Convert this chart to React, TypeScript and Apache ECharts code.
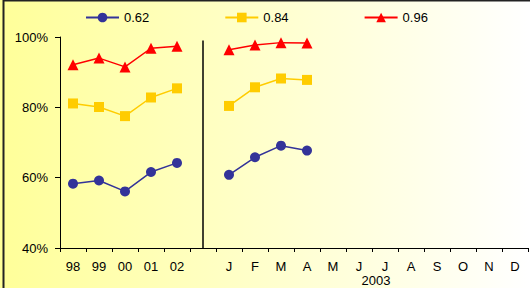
import React, { useEffect, useRef } from "react";
import * as echarts from "echarts";

const categories = ["98", "99", "00", "01", "02", "", "J", "F", "M", "A", "M", "J", "J", "A", "S", "O", "N", "D"];
const seriesNames = ["0.62", "0.84", "0.96"];
const navyValues = [58.3, 59.2, 56.1, 61.6, 64.2, null, 60.8, 65.8, 69.1, 67.7, null, null, null, null, null, null, null, null];
const yellowValues = [81.1, 80.1, 77.5, 82.8, 85.4, null, 80.4, 85.7, 88.2, 87.8, null, null, null, null, null, null, null, null];
const redValues = [92.1, 94.0, 91.5, 96.8, 97.4, null, 96.4, 97.7, 98.4, 98.3, null, null, null, null, null, null, null, null];
const yearLabel = "2003";
const separatorIndex = 5;

const FONT = "'Liberation Sans', Arial, sans-serif";

export default function App() {
  const ref = useRef<HTMLDivElement>(null);
  useEffect(() => {
    if (!ref.current) return;
    const chart = echarts.init(ref.current, null, { renderer: "svg" });
    const mk = (name: string, data: (number | null)[], color: string, symbol: string, size: number, extra: any = {}) => ({
      name,
      type: "line",
      data,
      symbol,
      symbolSize: size,
      itemStyle: { color },
      lineStyle: { color, width: 1.5 },
      connectNulls: false,
      ...extra,
    });
    chart.setOption({
      animation: false,
      backgroundColor: new echarts.graphic.LinearGradient(0, 0, 1, 0, [
        { offset: 0, color: "#FFFF99" },
        { offset: 1, color: "#FFFFFF" },
      ]),
      textStyle: { fontFamily: FONT },
      grid: { left: 60, right: 2, top: 37, bottom: 40, containLabel: false },
      legend: {
        left: 80,
        top: 6,
        itemWidth: 33,
        itemHeight: 12,
        itemGap: 75,
        textStyle: { fontFamily: FONT, fontSize: 13, color: "#000" },
        data: seriesNames,
      },
      xAxis: {
        type: "category",
        data: categories,
        boundaryGap: true,
        axisLine: { lineStyle: { color: "#000", width: 1 } },
        axisTick: { show: true, interval: 0, length: 4, lineStyle: { color: "#000" } },
        axisLabel: { interval: 0, color: "#000", fontSize: 13, lineHeight: 13, fontFamily: FONT, margin: 12 },
        splitLine: { show: false },
      },
      yAxis: {
        type: "value",
        min: 40,
        max: 100,
        interval: 20,
        axisLine: { show: true, lineStyle: { color: "#000", width: 1 } },
        axisTick: { show: true, length: 5, lineStyle: { color: "#000" } },
        axisLabel: { formatter: "{value}%", color: "#000", fontSize: 13, fontFamily: FONT, margin: 12 },
        splitLine: { show: false },
      },
      graphic: [
        {
          type: "rect",
          shape: { x: 3.5, y: 0.5, width: 600, height: 400 },
          style: { fill: "none", stroke: "#222", lineWidth: 2 },
          silent: true,
        },
        {
          type: "text",
          x: 376,
          y: 280,
          style: { text: yearLabel, fontSize: 13, lineHeight: 12, fontFamily: FONT, fill: "#000", textAlign: "center", textVerticalAlign: "middle" },
        },
      ],
      series: [
        mk(seriesNames[0], navyValues, "#333399", "circle", 10),
        mk(seriesNames[1], yellowValues, "#FFCC00", "rect", 10),
        mk(seriesNames[2], redValues, "#FF0000", "triangle", 11, {
          markLine: {
            silent: true,
            symbol: "none",
            label: { show: false },
            lineStyle: { color: "#000", width: 1.5, type: "solid" },
            data: [[{ coord: [separatorIndex, 99] }, { coord: [separatorIndex, 40] }]],
          },
        }),
      ],
    });
    return () => chart.dispose();
  }, []);
  return (
    <div
      ref={ref}
      style={{ position: "fixed", left: 0, top: 0, width: 530, height: 288 }}
    />
  );
}
